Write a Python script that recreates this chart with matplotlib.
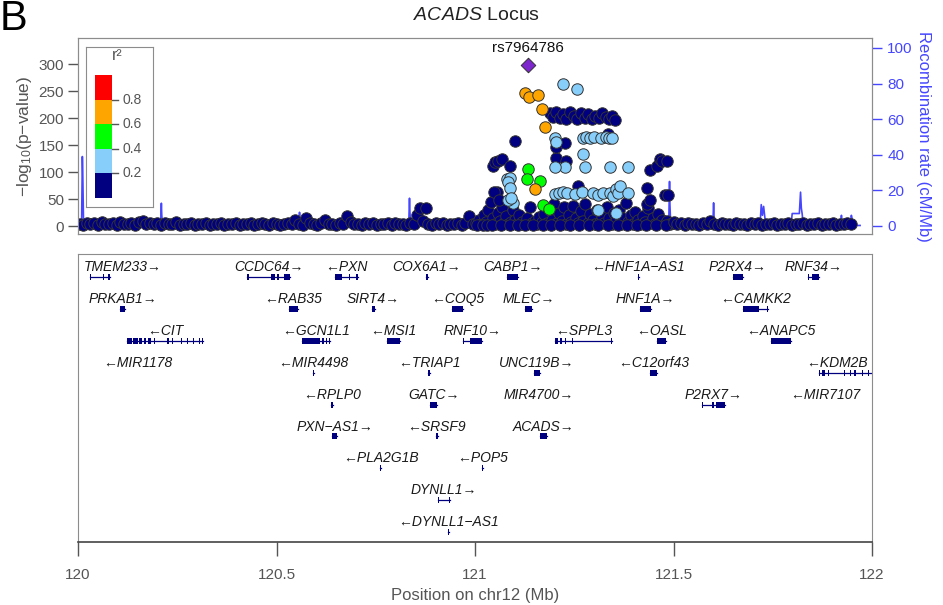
import matplotlib
matplotlib.use('Agg')
import matplotlib.pyplot as plt

plt.rcParams['font.family'] = ['Liberation Sans', 'DejaVu Sans']
plt.rcParams['mathtext.fontset'] = 'custom'
plt.rcParams['mathtext.rm'] = 'Liberation Sans'
plt.rcParams['mathtext.it'] = 'Liberation Sans:italic'

# ---- association results (position in Mb, -log10 p) ----
navy_pos = [
    120.004, 120.013, 120.022, 120.031, 120.041, 120.050, 120.060, 120.069, 120.078, 120.088,
    120.097, 120.106, 120.116, 120.125, 120.134, 120.144, 120.153, 120.163, 120.172, 120.181,
    120.191, 120.200, 120.210, 120.219, 120.228, 120.238, 120.247, 120.257, 120.266, 120.275,
    120.285, 120.294, 120.303, 120.313, 120.322, 120.332, 120.341, 120.350, 120.360, 120.369,
    120.379, 120.388, 120.397, 120.407, 120.416, 120.425, 120.435, 120.444, 120.454, 120.463,
    120.472, 120.482, 120.491, 120.500, 120.510, 120.519, 120.528, 120.538, 120.547, 120.556,
    120.566, 120.575, 120.584, 120.594, 120.603, 120.612, 120.622, 120.631, 120.640, 120.650,
    120.659, 120.668, 120.678, 120.687, 120.696, 120.706, 120.715, 120.724, 120.734, 120.743,
    120.752, 120.762, 120.771, 120.780, 120.790, 120.799, 120.808, 120.818, 120.827, 120.836,
    120.846, 120.854, 120.861, 120.868, 120.876, 120.882, 120.892, 120.901, 120.910, 120.920,
    120.929, 120.938, 120.948, 120.957, 120.966, 120.976, 120.985, 120.994,
    121.003, 121.010, 121.016, 121.022, 121.028, 121.034, 121.040, 121.045, 121.050, 121.055,
    121.058, 121.062, 121.068, 121.072, 121.078, 121.084, 121.090, 121.095, 121.101, 121.106,
    121.112, 121.118, 121.124, 121.130, 121.138, 121.144, 121.150, 121.156, 121.162, 121.168,
    121.175, 121.181, 121.188, 121.194, 121.200, 121.206, 121.212, 121.218, 121.224, 121.230,
    121.236, 121.242, 121.248, 121.254, 121.260, 121.266, 121.272, 121.278, 121.284, 121.290,
    121.296, 121.302, 121.308, 121.314, 121.320, 121.326, 121.332, 121.338, 121.344, 121.350,
    121.356, 121.362, 121.368, 121.374, 121.380, 121.386, 121.392, 121.398, 121.404, 121.410,
    121.416, 121.422, 121.428, 121.436, 121.442, 121.448, 121.454, 121.460, 121.466, 121.472,
    121.478, 121.484, 121.490, 121.496,
    121.006, 121.019, 121.031, 121.043, 121.065, 121.087, 121.109, 121.127, 121.147, 121.171,
    121.191, 121.215, 121.239, 121.263, 121.287, 121.311, 121.335, 121.359, 121.383, 121.407,
    121.431, 121.457, 121.481,
    121.045, 121.050, 121.058, 121.068, 121.088, 121.101, 121.048, 121.060,
    121.189, 121.196, 121.205, 121.213, 121.222, 121.230, 121.240, 121.250, 121.258, 121.267,
    121.276, 121.285, 121.294, 121.303, 121.312, 121.320, 121.330, 121.338, 121.346, 121.353,
    121.203, 121.205, 121.227, 121.259, 121.230, 121.335, 121.345,
    121.433, 121.441, 121.458, 121.466, 121.472, 121.484, 121.479, 121.487, 121.433, 121.440,
    121.500, 121.509, 121.518, 121.528, 121.537, 121.546, 121.556, 121.565, 121.574, 121.584,
    121.593, 121.602, 121.612, 121.621, 121.630, 121.640, 121.649, 121.658, 121.668, 121.677,
    121.686, 121.696, 121.705, 121.714, 121.724, 121.733, 121.742, 121.752, 121.761, 121.770,
    121.780, 121.789, 121.798, 121.808, 121.817, 121.826, 121.836, 121.845, 121.854, 121.864,
    121.873, 121.882, 121.892, 121.901, 121.910, 121.920, 121.929, 121.938, 121.947,
]
navy_logp = [
    4, 2, 6, 3, 5, 2, 7, 4, 3, 6,
    2, 8, 4, 3, 5, 2, 7, 9, 4, 6,
    3, 5, 2, 6, 4, 3, 7, 2, 4, 3,
    5, 2, 4, 3, 6, 2, 4, 3, 5, 2,
    4, 3, 6, 2, 4, 3, 5, 2, 4, 6,
    3, 2, 5, 3, 2, 4, 6, 3, 12, 4,
    2, 14, 5, 3, 2, 6, 12, 3, 4, 2,
    5, 3, 18, 7, 3, 4, 2, 5, 3, 6,
    2, 4, 3, 5, 2, 6, 3, 4, 2, 5,
    3, 20, 33, 10, 33, 4, 2, 5, 3, 6,
    2, 4, 3, 5, 2, 6, 18, 4,
    5, 12, 3, 20, 8, 30, 44, 15, 4, 63,
    25, 10, 35, 6, 18, 3, 8, 30, 12, 4,
    20, 7, 3, 14, 35, 6, 10, 3, 16, 8,
    22, 5, 30, 12, 40, 6, 25, 10, 35, 4,
    20, 8, 38, 15, 5, 28, 10, 40, 6, 22,
    12, 3, 30, 8, 18, 5, 36, 14, 4, 25,
    9, 30, 3, 15, 42, 7, 20, 4, 26, 11,
    3, 18, 8, 34, 5, 15, 3, 22, 7, 12,
    3, 9, 4, 6,
    1, 2, 1, 2, 1, 2, 1, 2, 1, 2,
    1, 2, 1, 2, 1, 2, 1, 2, 1, 2,
    1, 2, 1,
    112, 118, 121, 125, 112, 157, 63, 48,
    210, 202, 212, 200, 208, 198, 211, 204, 199, 209,
    201, 207, 198, 205, 200, 209, 203, 198, 204, 197,
    127, 146, 154, 75, 120, 170, 60,
    70, 103, 112, 125, 121, 121, 57, 58, 40, 48,
    8, 3, 6, 2, 5, 3, 4, 2, 6, 3,
    9, 4, 2, 5, 3, 4, 2, 5, 3, 4,
    2, 5, 3, 6, 2, 4, 3, 5, 2, 4,
    3, 5, 2, 4, 3, 5, 2, 4, 3, 5,
    2, 4, 3, 5, 2, 4, 3, 5, 4,
]
lblue_pos = [121.222, 121.257, 121.202, 121.204,
             121.272, 121.280, 121.290, 121.300, 121.318, 121.330, 121.338, 121.345,
             121.272, 121.277, 121.227, 121.202, 121.340, 121.385,
             121.202, 121.212, 121.222, 121.232, 121.252, 121.270, 121.297, 121.310, 121.322, 121.340,
             121.348, 121.355, 121.360, 121.365, 121.385, 121.310, 121.355,
             121.080, 121.088, 121.083, 121.088, 121.096, 121.083, 121.091]
lblue_logp = [263, 254, 164, 155,
              164, 165, 163, 166, 164, 165, 163, 164,
              134, 110, 109, 109, 109, 110,
              60, 62, 63, 62, 60, 63, 62, 58, 62, 62,
              55, 68, 62, 75, 62, 29, 24,
              88, 90, 81, 70, 42, 48, 52]
green_pos = [121.134, 121.131, 121.164, 121.172, 121.186]
green_logp = [105, 87, 83, 39, 31]
orange_pos = [121.126, 121.136, 121.159, 121.169, 121.176, 121.151]
orange_logp = [247, 239, 243, 217, 184, 68]
lead_snp = 'rs7964786'
lead_pos = 121.133
lead_logp = 298

# ---- recombination rate (cM/Mb) ----
recomb_pos = [120.000, 120.009, 120.011, 120.012, 120.014, 120.100, 120.208, 120.210, 120.211, 120.213, 120.400,
              120.556, 120.558, 120.559, 120.561, 120.700, 120.833, 120.835, 120.836, 120.838, 120.950,
              121.040, 121.042, 121.043, 121.045, 121.300, 121.488, 121.490, 121.491, 121.493, 121.550,
              121.599, 121.601, 121.602, 121.604, 121.680, 121.718, 121.721, 121.724, 121.727, 121.730, 121.733, 121.760,
              121.796, 121.799, 121.817, 121.820, 121.822, 121.824, 121.827, 121.880,
              121.921, 121.923, 121.925, 121.945, 121.948, 121.950, 121.952, 121.970]
recomb_rate = [0.6, 0.6, 39, 30, 0.6, 0.4, 0.4, 12.8, 6, 0.4, 0.3,
               0.3, 7.7, 4, 0.3, 0.3, 0.3, 15.6, 8, 0.3, 0.4,
               0.4, 11, 5, 0.4, 0.5, 0.5, 25, 12, 0.5, 0.4,
               0.4, 13, 6, 0.4, 0.3, 0.3, 12, 6, 11, 5, 0.5, 0.4,
               0.4, 7, 7, 19, 10, 7, 0.4, 0.3,
               0.3, 6, 0.3, 0.3, 6, 4, 0.3, 0.3]

# ---- genes ----
gene_names = ['TMEM233', 'CCDC64', 'PXN', 'COX6A1', 'CABP1', 'HNF1A-AS1', 'P2RX4', 'RNF34',
              'PRKAB1', 'RAB35', 'SIRT4', 'COQ5', 'MLEC', 'HNF1A', 'CAMKK2',
              'CIT', 'GCN1L1', 'MSI1', 'RNF10', 'SPPL3', 'OASL', 'ANAPC5',
              'MIR1178', 'MIR4498', 'TRIAP1', 'UNC119B', 'C12orf43', 'KDM2B',
              'RPLP0', 'GATC', 'MIR4700', 'P2RX7', 'MIR7107',
              'PXN-AS1', 'SRSF9', 'ACADS',
              'PLA2G1B', 'POP5',
              'DYNLL1',
              'DYNLL1-AS1']
gene_strand = ['+', '+', '-', '+', '+', '-', '+', '+',
               '+', '-', '+', '-', '+', '+', '-',
               '-', '-', '-', '+', '-', '-', '-',
               '-', '-', '-', '+', '-', '-',
               '-', '+', '+', '+', '-',
               '+', '-', '+',
               '-', '-',
               '+',
               '-']
gene_row = [0] * 8 + [1] * 7 + [2] * 7 + [3] * 6 + [4] * 5 + [5] * 3 + [6] * 2 + [7] + [8]
gene_start = [120.030, 120.426, 120.647, 120.877, 121.081, 121.410, 121.650, 121.839,
              120.106, 120.531, 120.741, 120.942, 121.126, 121.416, 121.675,
              120.123, 120.564, 120.778, 120.970, 121.202, 121.458, 121.746,
              120.150, 120.593, 120.882, 121.149, 121.441, 121.866,
              120.638, 120.887, 121.160, 121.572, 121.883,
              120.640, 120.902, 121.164,
              120.761, 121.018,
              120.907,
              120.931]
gene_end = [120.081, 120.534, 120.705, 120.881, 121.108, 121.412, 121.675, 121.866,
            120.118, 120.554, 120.748, 120.970, 121.144, 121.443, 121.738,
            120.315, 120.635, 120.811, 121.018, 121.345, 121.481, 121.796,
            120.151, 120.594, 120.886, 121.164, 121.458, 122.013,
            120.642, 120.904, 121.161, 121.630, 121.884,
            120.652, 120.906, 121.181,
            120.764, 121.021,
            120.937,
            120.934]
gene_exons = {
    'TMEM233': [(120.030, 120.032), (120.064, 120.066), (120.076, 120.081)],
    'CCDC64': [(120.426, 120.430), (120.485, 120.495), (120.500, 120.506), (120.520, 120.534)],
    'PXN': [(120.647, 120.665), (120.683, 120.686), (120.700, 120.705)],
    'CIT': [(120.123, 120.135), (120.138, 120.150), (120.154, 120.160), (120.165, 120.172),
            (120.176, 120.185), (120.192, 120.195), (120.208, 120.210), (120.225, 120.230),
            (120.236, 120.240), (120.260, 120.262), (120.275, 120.278), (120.290, 120.293),
            (120.305, 120.308), (120.313, 120.315)],
    'GCN1L1': [(120.564, 120.610), (120.615, 120.620), (120.625, 120.628), (120.632, 120.635)],
    'RNF10': [(120.970, 120.972), (120.988, 121.018)],
    'SPPL3': [(121.202, 121.210), (121.215, 121.220), (121.226, 121.228), (121.245, 121.247),
              (121.343, 121.345)],
    'CAMKK2': [(121.675, 121.715), (121.735, 121.738)],
    'KDM2B': [(121.866, 121.870), (121.875, 121.882), (121.890, 121.892), (121.930, 121.933),
              (121.945, 121.948), (121.955, 121.960), (121.975, 121.978), (121.990, 121.992)],
    'P2RX7': [(121.572, 121.575), (121.597, 121.603), (121.607, 121.630)],
    'DYNLL1': [(120.907, 120.909), (120.934, 120.937)],
    'RNF34': [(121.839, 121.842), (121.850, 121.866)],
}

r2_colors = ['#000080', '#87CEFA', '#00FF00', '#FFA500', '#FF0000']
grey = '#555555'
frame = '#8c8c8c'
rcol = '#4646ff'

W, H = 943, 605
fig = plt.figure(figsize=(W / 100, H / 100), dpi=100)


def box(x0, y0, x1, y1):
    return [x0 / W, 1 - y1 / H, (x1 - x0) / W, (y1 - y0) / H]


# ---- top panel ----
ax = fig.add_axes(box(78, 38, 872, 234))
axr = ax.twinx()
ax.set_zorder(axr.get_zorder() + 1)
ax.patch.set_visible(False)

axr.plot(recomb_pos, recomb_rate, color=rcol, lw=1.2)
axr.set_ylim(-4.5, 105.6)
axr.set_yticks(range(0, 101, 20))
axr.tick_params(axis='y', colors=rcol, labelsize=11, length=7, width=1, pad=4)
axr.set_ylabel('Recombination rate (cM/Mb)', color=rcol, fontsize=12, rotation=270, labelpad=13)

mk = dict(s=68, edgecolors='#333333', linewidths=0.7)
ax.scatter(navy_pos, navy_logp, c=r2_colors[0], **mk)
ax.scatter(lblue_pos, lblue_logp, c=r2_colors[1], **mk)
ax.scatter(green_pos, green_logp, c=r2_colors[2], **mk)
ax.scatter(orange_pos, orange_logp, c=r2_colors[3], **mk)
ax.scatter([lead_pos], [lead_logp], marker='D', s=55, c='#7D26CD', edgecolors='#333333', linewidths=0.7)
ax.text(lead_pos, lead_logp + 20, lead_snp, ha='center', va='bottom', fontsize=11, color='#111111')

ax.set_xlim(120, 122)
ax.set_ylim(-14.8, 348.8)
ax.set_xticks([])
ax.set_yticks(range(0, 301, 50))
ax.tick_params(axis='y', colors=grey, labelsize=11, length=7, width=1, pad=3)
ax.set_ylabel('\u2212log$_{10}$(p\u2212value)', color=grey, fontsize=12.5, labelpad=3)
for a in (ax, axr):
    for s in a.spines.values():
        s.set_color(frame)

# r2 legend
leg = fig.add_axes(box(86, 47, 153, 207))
leg.set_zorder(5)
leg.set_xlim(0, 1)
leg.set_ylim(-0.0732, 1.2276)
leg.set_xticks([])
leg.set_yticks([])
for s in leg.spines.values():
    s.set_color(frame)
leg.bar(0.261, 0.2, bottom=[0, 0.2, 0.4, 0.6, 0.8], width=0.254, color=r2_colors)
for v in (0.2, 0.4, 0.6, 0.8):
    leg.plot([0.388, 0.48], [v, v], color=grey, lw=1)
    leg.text(0.55, v, f'{v:.1f}', ha='left', va='center', fontsize=10, color=grey)
leg.text(0.46, 1.16, 'r\u00b2', ha='center', va='center', fontsize=11.5, color=grey)

# ---- gene panel ----
gax = fig.add_axes(box(78, 254, 872, 542))
gax.set_xlim(120, 122)
gax.set_ylim(8.62, -0.41)
gax.set_yticks([])
gax.set_xticks([120, 120.5, 121, 121.5, 122])
gax.set_xticklabels(['120', '120.5', '121', '121.5', '122'])
gax.tick_params(axis='x', colors=grey, labelsize=11, length=10, width=1, pad=9)
gax.set_xlabel('Position on chr12 (Mb)', color=grey, fontsize=12, labelpad=4)
for side in ('left', 'right', 'top'):
    gax.spines[side].set_color(frame)
gax.spines['bottom'].set_color('#444444')
gax.spines['bottom'].set_linewidth(1.2)

gcol = '#00007F'
labels = []
for i, name in enumerate(gene_names):
    y = gene_row[i] + 0.31
    st, en = gene_start[i], gene_end[i]
    exons = gene_exons.get(name, [(st, en)])
    gax.plot([st, en], [y, y], color=gcol, lw=0.9, clip_on=True)
    for es, ee in exons:
        gax.broken_barh([(es, max(ee - es, 0.002))], (y - 0.095, 0.19), facecolors=gcol)
    txt = name.replace('-', '\u2212')
    txt = txt + '\u2192' if gene_strand[i] == '+' else '\u2190' + txt
    t = gax.text((st + en) / 2, gene_row[i], txt, ha='center', va='center',
                 fontsize=10, style='italic', color='#1a1a1a')
    labels.append(t)

# keep labels inside the panel
fig.canvas.draw()
inv = gax.transData.inverted()
for t in labels:
    bb = t.get_window_extent()
    x0 = inv.transform((bb.x0, bb.y0))[0]
    x1 = inv.transform((bb.x1, bb.y0))[0]
    x, y = t.get_position()
    if x0 < 120.015:
        t.set_position((x + 120.015 - x0, y))
    elif x1 > 121.99:
        t.set_position((x - (x1 - 121.99), y))

fig.text(476 / W, 1 - 15 / H, r'$\mathit{ACADS}$ Locus', ha='center', va='center', fontsize=14, color='#222222')
fig.text(0.0, 1 - 19 / H, 'B', ha='left', va='center', fontsize=30, color='black')

fig.savefig('out.png', dpi=100)
